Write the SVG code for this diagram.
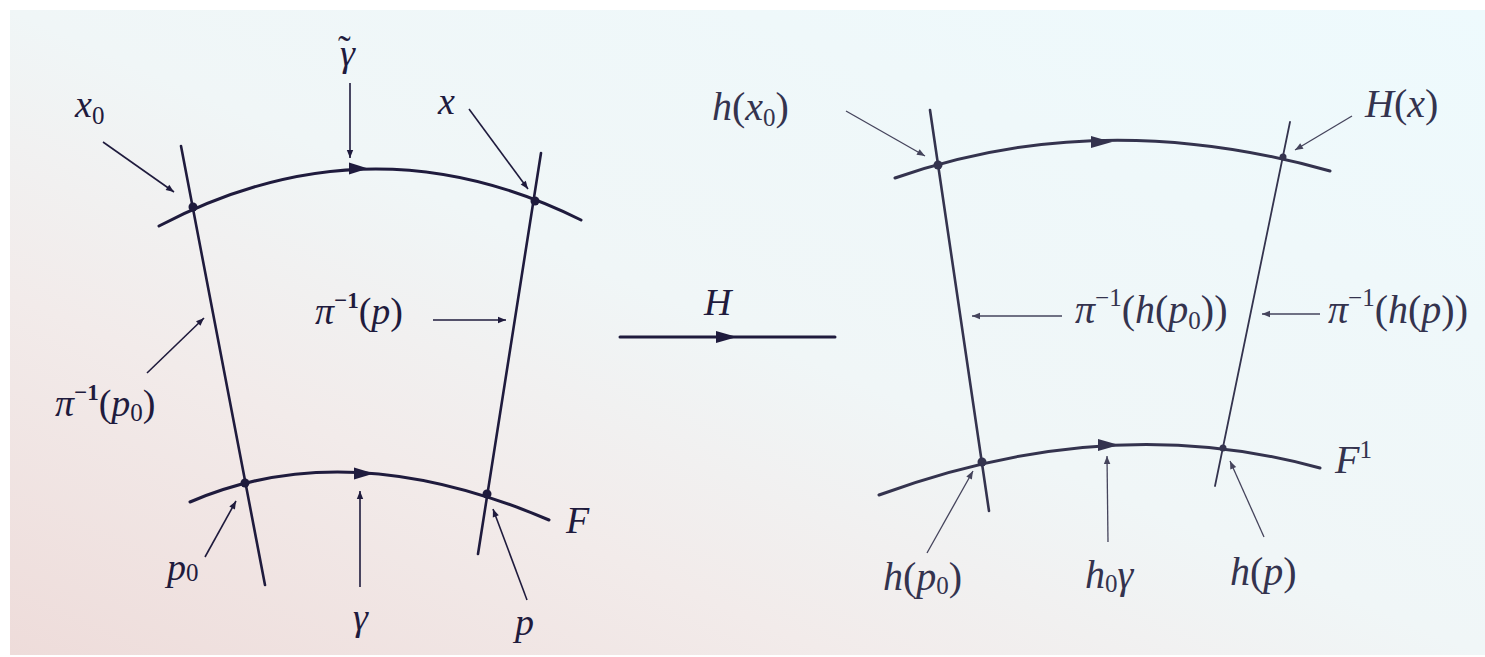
<svg xmlns="http://www.w3.org/2000/svg" width="1485" height="657" viewBox="0 0 1485 657">
<defs>
<linearGradient id="paper" x1="0" y1="1" x2="1" y2="0">
<stop offset="0" stop-color="#eedcda"/>
<stop offset="0.28" stop-color="#f2ebea"/>
<stop offset="0.5" stop-color="#f0f6f7"/>
<stop offset="1" stop-color="#eefafd"/>
</linearGradient>
<marker id="ah" viewBox="0 0 10 10" refX="10" refY="5" markerWidth="14" markerHeight="8" markerUnits="userSpaceOnUse" orient="auto">
<path d="M0,1 L10,5 L0,9 z" fill="#1f1b3d"/>
</marker>
<marker id="ahR" viewBox="0 0 10 10" refX="10" refY="5" markerWidth="14" markerHeight="8" markerUnits="userSpaceOnUse" orient="auto">
<path d="M0,1 L10,5 L0,9 z" fill="#45445c"/>
</marker>
</defs>
<style>
.ink{stroke:#1f1b3d;fill:none;stroke-linecap:round}
.inkR{stroke:#34334e;fill:none;stroke-linecap:round}
.head{fill:#1f1b3d}
.headR{fill:#34334e}
.dot{fill:#1f1b3d}
.dotR{fill:#34334e}
.ptr{stroke:#1f1b3d;stroke-width:1.6;fill:none;marker-end:url(#ah)}
.ptrR{stroke:#45445c;stroke-width:1.3;fill:none;marker-end:url(#ahR)}
.t{font-style:italic;fill:#1f1b3d;font-size:38px}
.tR{font-style:italic;fill:#34334e;font-size:40px}
.up{font-style:normal}
.sub{font-size:25px}
.sup{font-size:23px;font-weight:bold}
</style>
<rect x="0" y="0" width="1485" height="657" fill="#ffffff"/>
<rect x="10" y="10" width="1475" height="645" fill="url(#paper)"/>

<g id="left-diagram">
<path class="ink" stroke-width="3" d="M159,226 Q370,115 581,220"/>
<path class="ink" stroke-width="3" d="M190,502 Q347,434 549,520"/>
<line class="ink" stroke-width="2.6" x1="181" y1="146" x2="265" y2="585"/>
<line class="ink" stroke-width="2.6" x1="541" y1="153" x2="478" y2="554"/>
<polygon class="head" points="368,168.5 349,162.5 349,174.5"/>
<polygon class="head" points="374,473.5 354,467.5 354,479.5"/>
<circle class="dot" cx="193" cy="207" r="4.5"/>
<circle class="dot" cx="535" cy="201" r="4.5"/>
<circle class="dot" cx="245" cy="483" r="4.5"/>
<circle class="dot" cx="487" cy="494" r="4.5"/>
</g>

<g id="map-H" font-family="Liberation Serif, DejaVu Serif, serif">
<line class="ink" stroke-width="3" x1="620" y1="337" x2="835" y2="337"/>
<polygon class="head" points="737,337 716,331 716,343"/>
<text class="t" x="704" y="315">H</text>
</g>

<g id="right-diagram">
<path class="inkR" stroke-width="3" d="M895,178 Q1100,106 1330,171"/>
<path class="inkR" stroke-width="3" d="M879,495 Q1110,410 1320,468"/>
<line class="inkR" stroke-width="2.6" x1="930" y1="110" x2="989" y2="511"/>
<line class="inkR" stroke-width="1.8" x1="1290" y1="122" x2="1215" y2="486"/>
<polygon class="headR" points="1112,142 1091,136 1091,148"/>
<polygon class="headR" points="1119,445 1098,439 1098,451"/>
<circle class="dotR" cx="938" cy="165" r="4.5"/>
<circle class="dotR" cx="1283" cy="157" r="3.5"/>
<circle class="dotR" cx="982" cy="462" r="4.5"/>
<circle class="dotR" cx="1223" cy="448" r="3.5"/>
</g>

<g id="connectors">
<line class="ptr" x1="103" y1="142" x2="174" y2="192"/>
<line class="ptr" x1="350" y1="83" x2="350" y2="158"/>
<line class="ptr" x1="469" y1="109" x2="528" y2="189"/>
<line class="ptr" x1="433" y1="320" x2="506" y2="320"/>
<line class="ptr" x1="147" y1="373" x2="204" y2="318"/>
<line class="ptr" x1="205" y1="557" x2="236" y2="501"/>
<line class="ptr" x1="360" y1="587" x2="360" y2="491"/>
<line class="ptr" x1="527" y1="600" x2="493" y2="509"/>
<line class="ptrR" x1="846" y1="111" x2="925" y2="156"/>
<line class="ptrR" x1="1352" y1="116" x2="1295" y2="150"/>
<line class="ptrR" x1="1062" y1="316" x2="972" y2="316"/>
<line class="ptrR" x1="1320" y1="314" x2="1262" y2="314"/>
<line class="ptrR" x1="927" y1="553" x2="973" y2="471"/>
<line class="ptrR" x1="1108" y1="542" x2="1107" y2="456"/>
<line class="ptrR" x1="1264" y1="537" x2="1230" y2="461"/>
</g>

<g id="labels-left" font-family="Liberation Serif, DejaVu Serif, serif">
<text class="t" x="75" y="117">x<tspan class="up sub" dy="7">0</tspan></text>
<text class="t" x="338" y="66">γ<tspan class="up" dx="-17" dy="-4">˜</tspan></text>
<text class="t" x="438" y="114">x</text>
<text class="t" x="315" y="324">π<tspan class="up sup" dy="-16">−1</tspan><tspan class="up" dy="16">(</tspan>p<tspan class="up">)</tspan></text>
<text class="t" x="55" y="416">π<tspan class="up sup" dy="-16">−1</tspan><tspan class="up" dy="16">(</tspan>p<tspan class="up sub" dy="5">0</tspan><tspan class="up" dy="-5">)</tspan></text>
<text class="t" x="167" y="580">p<tspan class="up sub" dy="1">0</tspan></text>
<text class="t" x="353" y="630">γ</text>
<text class="t" x="515" y="635">p</text>
<text class="t" x="566" y="533">F</text>
</g>

<g id="labels-right" font-family="Liberation Serif, DejaVu Serif, serif">
<text class="tR" x="712" y="120">h<tspan class="up">(</tspan>x<tspan class="up sub" dy="6">0</tspan><tspan class="up" dy="-6">)</tspan></text>
<text class="tR" x="1365" y="117" font-size="33">H<tspan class="up">(</tspan>x<tspan class="up">)</tspan></text>
<text class="tR" x="1075" y="323">π<tspan class="up sub" dy="-17">−1</tspan><tspan class="up" dy="17">(</tspan>h<tspan class="up">(</tspan>p<tspan class="up sub" dy="6">0</tspan><tspan class="up" dy="-6">))</tspan></text>
<text class="tR" x="1328" y="323" font-size="34">π<tspan class="up sub" dy="-17">−1</tspan><tspan class="up" dy="17">(</tspan>h<tspan class="up">(</tspan>p<tspan class="up">))</tspan></text>
<text class="tR" x="883" y="590">h<tspan class="up">(</tspan>p<tspan class="up sub" dy="4">0</tspan><tspan class="up" dy="-4">)</tspan></text>
<text class="tR" x="1085" y="588">h<tspan class="up sub" dy="4">0</tspan><tspan dy="-4">γ</tspan></text>
<text class="tR" x="1230" y="585">h<tspan class="up">(</tspan>p<tspan class="up">)</tspan></text>
<text class="tR" x="1335" y="473">F<tspan class="up sub" dy="-15">1</tspan></text>
</g>
</svg>
